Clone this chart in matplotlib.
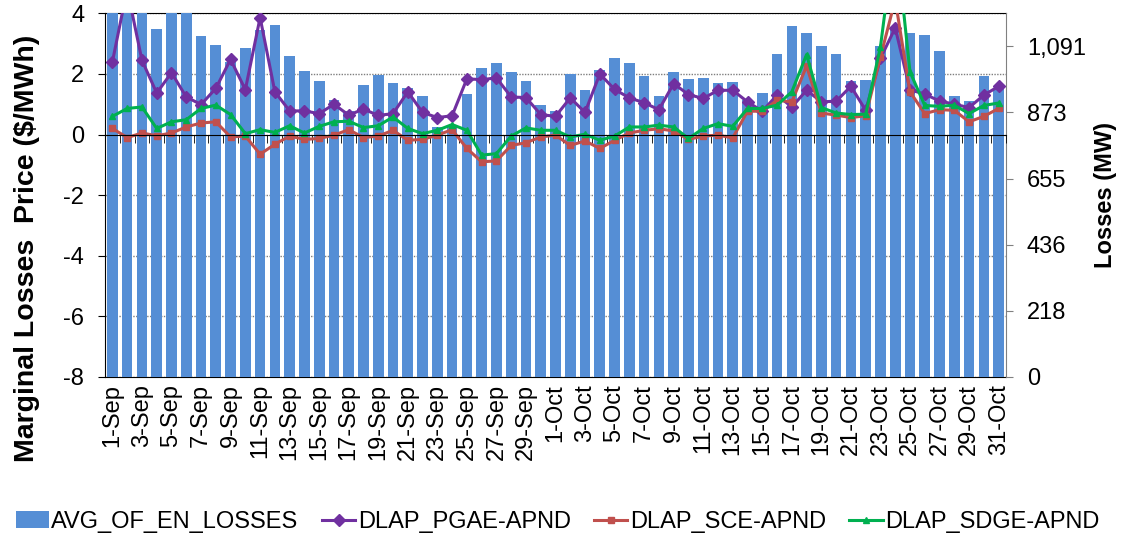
import numpy as np
import matplotlib
matplotlib.use("Agg")
import matplotlib.pyplot as plt
from matplotlib.ticker import FixedLocator, FuncFormatter

plt.rcParams['font.family'] = ['Liberation Sans', 'DejaVu Sans']
plt.rcParams['axes.unicode_minus'] = False

# Categories: daily values from 1-Sep to 31-Oct
days = [f"{d}-Sep" for d in range(1, 31)] + [f"{d}-Oct" for d in range(1, 32)]

# Average energy losses (MW), right axis
avg_losses = [1250, 1260, 1240, 1147, 1230, 1240, 1124, 1095, 1040, 1084,
              1146, 1160, 1058, 1011, 977, 914, 878, 963, 997, 970,
              953, 927, 824, 825, 935, 1020, 1036, 1005, 978, 896,
              877, 1000, 947, 1014, 1051, 1037, 992, 926, 1008, 982,
              987, 971, 974, 913, 937, 1067, 1158, 1136, 1093, 1067,
              976, 981, 1093, 1145, 1136, 1130, 1076, 927, 912, 992, 952]

# Marginal losses price ($/MWh), left axis
pgae = [2.40, 4.80, 2.45, 1.37, 2.04, 1.24, 0.99, 1.52, 2.48, 1.48,
        3.86, 1.41, 0.78, 0.78, 0.69, 1.00, 0.64, 0.84, 0.63, 0.69,
        1.41, 0.73, 0.56, 0.62, 1.84, 1.81, 1.87, 1.24, 1.22, 0.66,
        0.60, 1.21, 0.73, 2.00, 1.49, 1.21, 1.05, 0.82, 1.68, 1.32,
        1.19, 1.46, 1.46, 1.08, 0.77, 1.30, 0.91, 1.46, 1.08, 1.10,
        1.59, 0.80, 2.51, 3.52, 1.48, 1.33, 1.11, 1.00, 0.89, 1.30, 1.59]

sce = [0.20, -0.10, 0.05, -0.04, 0.05, 0.25, 0.38, 0.42, -0.08, -0.05,
       -0.65, -0.32, -0.05, -0.16, -0.13, -0.02, 0.16, -0.10, -0.05, 0.14,
       -0.19, -0.16, -0.02, 0.16, -0.46, -0.90, -0.87, -0.36, -0.27, -0.08,
       -0.02, -0.36, -0.21, -0.46, -0.19, 0.05, 0.14, 0.19, 0.12, -0.16,
       -0.05, -0.02, -0.11, 0.77, 0.77, 1.13, 1.08, 2.26, 0.71, 0.64,
       0.56, 0.62, 2.56, 4.45, 1.41, 0.69, 0.82, 0.80, 0.42, 0.60, 0.86]

sdge = [0.60, 0.86, 0.91, 0.20, 0.42, 0.49, 0.86, 0.97, 0.66, 0.03,
        0.16, 0.07, 0.29, 0.05, 0.27, 0.42, 0.44, 0.23, 0.29, 0.58,
        0.20, 0.03, 0.14, 0.33, 0.14, -0.68, -0.63, -0.05, 0.22, 0.14,
        0.14, -0.08, 0.01, -0.19, -0.05, 0.25, 0.25, 0.31, 0.25, -0.13,
        0.20, 0.36, 0.27, 0.86, 0.86, 0.97, 1.41, 2.64, 0.89, 0.71,
        0.66, 0.67, 2.89, 6.70, 2.07, 0.96, 0.93, 0.97, 0.69, 0.96, 1.04]

x = np.arange(len(days))

fig = plt.figure(figsize=(11.22, 5.37), dpi=100)
fig.subplots_adjust(left=0.0936, right=0.8966, top=0.9752, bottom=0.298)
ax = fig.add_subplot(111)
ax2 = ax.twinx()   # bars (MW)
ax3 = ax.twinx()   # price lines, drawn on top of bars

# left axis: grid + ticks
ax.set_ylim(-8, 4)
ax.set_yticks(np.arange(-8, 5, 2))
ax.set_xlim(-0.5, len(days) - 0.5)
ax.yaxis.grid(True, linestyle=(0, (1, 1)), color='#7f7f7f', linewidth=1)
ax.tick_params(axis='y', labelsize=17, direction='out', length=5, colors='black', pad=10)
ax.set_ylabel('Marginal Losses  Price ($/MWh)', fontsize=20.5, fontweight='bold')
ax.yaxis.set_label_coords(-0.072, 0.355)
for s in ['left', 'top', 'bottom']:
    ax.spines[s].set_color('black')
ax.spines['right'].set_visible(False)

ax.xaxis.set_major_locator(FixedLocator(x[::2]))
ax.xaxis.set_minor_locator(FixedLocator(np.arange(-0.5, len(days), 1)))
ax.set_xticklabels(days[::2], rotation=90, fontsize=17)
ax.tick_params(axis='x', which='both', length=0, pad=5)

# bars on right axis
bars = ax2.bar(x, avg_losses, width=0.72, color='#558ED5', label='AVG_OF_EN_LOSSES')
ax2.set_ylim(0, 1200)
ax2.yaxis.set_major_locator(FixedLocator(np.arange(0, 1199, 1200 / 5.5)))
ax2.yaxis.set_major_formatter(FuncFormatter(lambda v, p: f"{v:,.0f}"))
ax2.tick_params(axis='y', labelsize=17, direction='out', length=5, color='#808080', pad=10)
ax2.set_ylabel('Losses (MW)', fontsize=17, fontweight='bold', labelpad=6)
for s in ['left', 'top', 'bottom']:
    ax2.spines[s].set_visible(False)
ax2.spines['right'].set_color('#808080')

# price lines
ax3.set_ylim(-8, 4)
ax3.set_yticks([])
l1, = ax3.plot(x, pgae, color='#7030A0', linewidth=2.2, marker='D', markersize=6,
               label='DLAP_PGAE-APND')
l2, = ax3.plot(x, sce, color='#C0504D', linewidth=2.2, marker='s', markersize=5,
               label='DLAP_SCE-APND')
l3, = ax3.plot(x, sdge, color='#00B050', linewidth=2.2, marker='^', markersize=5,
               label='DLAP_SDGE-APND')

# zero line with category tick marks
ax3.xaxis.set_visible(True)
for s in ['left', 'right', 'top']:
    ax3.spines[s].set_visible(False)
ax3.spines['bottom'].set_position(('data', 0))
ax3.spines['bottom'].set_color('black')
ax3.tick_params(axis='x', which='major', length=0, labelbottom=False)
ax3.tick_params(axis='x', which='minor', length=6, direction='out', color='black')

fig.legend(handles=[bars, l1, l2, l3], loc='center', bbox_to_anchor=(0.497, 0.028),
           ncol=4, frameon=False, fontsize=17, handlelength=1.4, handletextpad=0.1,
           columnspacing=1.0)

fig.savefig('out.png', dpi=100)
